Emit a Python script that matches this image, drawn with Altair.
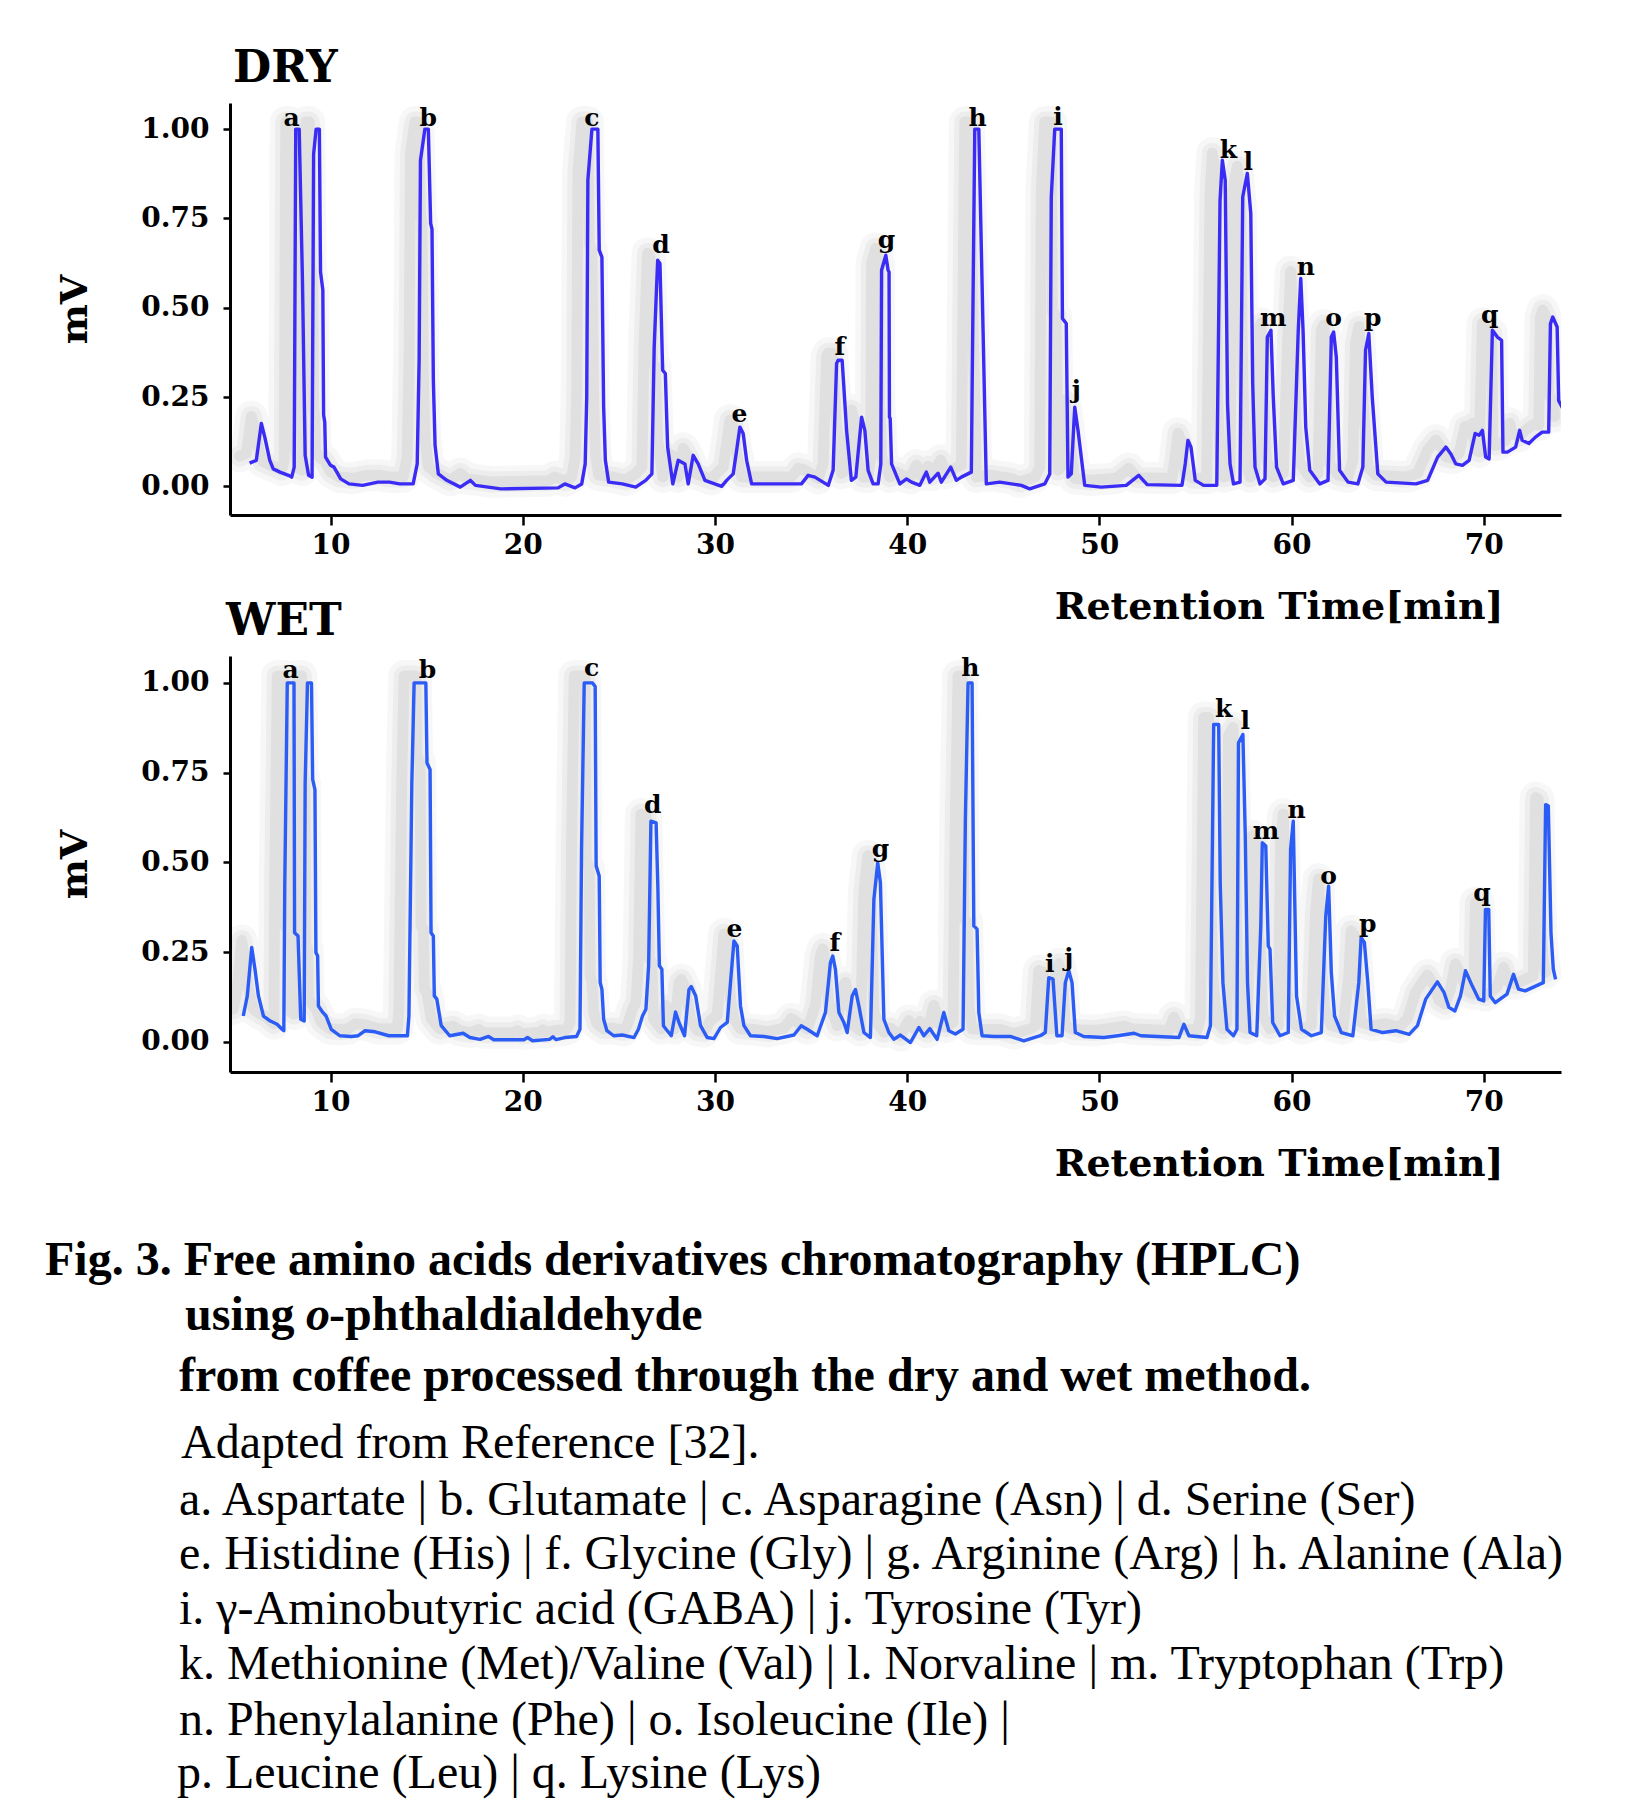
import altair as alt
import pandas as pd

# ---------------- data ----------------
DRY_T = [5.79, 6.14, 6.40, 6.58, 6.84, 7.02, 7.37, 7.81, 7.98, 8.11, 8.19, 8.37, 8.54, 8.68, 8.86, 9.04,
         9.12, 9.25, 9.42, 9.48, 9.60, 9.64, 9.70, 9.74, 10.0, 10.18, 10.53, 10.96, 11.67, 12.46, 13.07,
         13.6, 14.3, 14.51, 14.61, 14.68, 14.91, 15.09, 15.21, 15.28, 15.35, 15.44, 15.61, 16.05, 16.75,
         17.28, 17.54, 18.86, 21.84, 22.19, 22.72, 23.07, 23.25, 23.33, 23.39, 23.6, 23.91, 23.98, 24.12,
         24.21, 24.3, 24.47, 25.18, 25.88, 26.4, 26.72, 26.84, 27.02, 27.14, 27.28, 27.42, 27.54, 27.81,
         28.09, 28.44, 28.61, 28.87, 29.13, 29.48, 30.35, 30.61, 30.95, 31.13, 31.3, 31.47, 31.65, 31.91,
         33.81, 34.5, 34.85, 35.2, 35.9, 36.15, 36.33, 36.41, 36.62, 36.85, 37.1, 37.33, 37.63, 37.8,
         37.97, 38.23, 38.49, 38.63, 38.67, 38.89, 39.01, 39.06, 39.08, 39.12, 39.19, 39.62, 39.97, 40.23,
         40.66, 41.0, 41.18, 41.61, 41.78, 42.27, 42.56, 42.82, 43.34, 43.43, 43.52, 43.73, 43.95, 44.12,
         44.82, 45.94, 46.38, 47.16, 47.42, 47.5, 47.68, 48.02, 48.08, 48.28, 48.37, 48.54, 48.72, 48.89,
         49.24, 50.1, 51.4, 52.05, 52.49, 54.3, 54.47, 54.61, 54.77, 54.99, 55.42, 56.11, 56.28, 56.4,
         56.55, 56.67, 56.8, 56.98, 57.32, 57.46, 57.7, 57.88, 57.98, 58.1, 58.36, 58.62, 58.74, 58.93,
         59.05, 59.22, 59.57, 60.09, 60.35, 60.48, 60.6, 60.74, 60.95, 61.47, 61.9, 62.07, 62.19, 62.33,
         62.5, 62.94, 63.45, 63.71, 63.85, 64.02, 64.2, 64.49, 64.92, 66.48, 67.08, 67.6, 68.03, 68.29,
         68.55, 68.89, 69.24, 69.55, 69.76, 69.93, 70.1, 70.28, 70.45, 70.71, 70.93, 71.0, 71.23, 71.66,
         71.87, 72.0, 72.35, 72.69, 73.04, 73.38, 73.47, 73.59, 73.82, 73.9, 74.16, 74.2]
DRY_V = [0.065, 0.073, 0.176, 0.138, 0.073, 0.049, 0.040, 0.031, 0.026, 0.054, 1.0, 1.0, 0.577, 0.087, 0.031, 0.026,
         0.93, 1.0, 1.0, 0.60, 0.55, 0.20, 0.18, 0.082, 0.059, 0.054, 0.021, 0.007, 0.003, 0.012, 0.012,
         0.007, 0.007, 0.063, 0.353, 0.913, 1.0, 1.0, 0.736, 0.72, 0.297, 0.115, 0.035, 0.017, -0.002,
         0.017, 0.003, -0.007, -0.004, 0.007, -0.004, 0.007, 0.063, 0.25, 0.857, 1.0, 1.0, 0.661, 0.642,
         0.222, 0.073, 0.012, 0.007, -0.002, 0.017, 0.035, 0.39, 0.633, 0.624, 0.325, 0.316, 0.11, 0.007,
         0.073, 0.063, 0.007, 0.087, 0.063, 0.017, 0.0, 0.017, 0.035, 0.101, 0.166, 0.148, 0.073, 0.007,
         0.007, 0.007, 0.031, 0.026, 0.003, 0.045, 0.344, 0.353, 0.353, 0.157, 0.017, 0.026, 0.194, 0.157,
         0.045, 0.007, 0.007, 0.063, 0.605, 0.647, 0.605, 0.60, 0.194, 0.19, 0.063, 0.007, 0.021, 0.012,
         0.003, 0.040, 0.012, 0.037, 0.012, 0.054, 0.017, 0.026, 0.040, 0.53, 1.0, 1.0, 0.44, 0.007,
         0.012, 0.003, -0.007, 0.007, 0.035, 0.81, 1.0, 1.0, 0.47, 0.456, 0.026, 0.035, 0.222, 0.157,
         0.003, -0.002, 0.003, 0.031, 0.005, 0.003, 0.063, 0.129, 0.110, 0.017, 0.003, 0.003, 0.80, 0.913,
         0.857, 0.232, 0.063, 0.007, 0.012, 0.81, 0.876, 0.764, 0.288, 0.054, 0.007, 0.021, 0.418, 0.437,
         0.25, 0.054, 0.007, 0.017, 0.437, 0.582, 0.437, 0.166, 0.045, 0.007, 0.017, 0.418, 0.432, 0.362,
         0.045, 0.012, 0.007, 0.054, 0.381, 0.428, 0.25, 0.035, 0.012, 0.007, 0.017, 0.082, 0.11, 0.091,
         0.063, 0.059, 0.073, 0.148, 0.143, 0.157, 0.082, 0.077, 0.437, 0.418, 0.409, 0.096, 0.096, 0.11,
         0.157, 0.129, 0.12, 0.138, 0.152, 0.152, 0.455, 0.474, 0.446, 0.24, 0.213, 0.176]

WET_T = [5.46, 5.67, 5.90, 6.07, 6.25, 6.51, 6.87, 7.22, 7.48, 7.57, 7.62, 7.75, 8.10, 8.13, 8.31, 8.45,
         8.63, 8.68, 8.80, 9.01, 9.07, 9.19, 9.24, 9.33, 9.37, 9.60, 9.77, 10.04, 10.48, 11.09, 11.44,
         11.80, 12.32, 13.03, 14.0, 14.08, 14.23, 14.35, 14.96, 15.02, 15.18, 15.23, 15.35, 15.40, 15.53,
         15.76, 16.2, 16.9, 17.25, 17.78, 18.22, 18.49, 20.07, 20.25, 20.51, 21.39, 21.57, 21.74, 22.18,
         22.8, 22.98, 23.06, 23.2, 23.63, 23.77, 23.82, 23.98, 24.03, 24.12, 24.21, 24.38, 24.73, 25.18,
         25.79, 26.02, 26.23, 26.41, 26.55, 26.67, 26.94, 27.03, 27.11, 27.24, 27.32, 27.46, 27.73, 27.95,
         28.13, 28.42, 28.65, 28.77, 29.0, 29.25, 29.6, 29.95, 30.29, 30.64, 30.81, 30.99, 31.16, 31.33,
         31.51, 31.85, 32.55, 33.24, 34.11, 34.49, 34.8, 35.32, 35.75, 36.01, 36.13, 36.27, 36.45, 36.71,
         36.88, 37.14, 37.31, 37.49, 37.75, 38.09, 38.27, 38.47, 38.61, 38.79, 39.05, 39.31, 39.65, 40.17,
         40.61, 40.87, 41.18, 41.56, 41.91, 42.17, 42.51, 42.91, 43.03, 43.17, 43.38, 43.47, 43.64, 43.73,
         43.9, 44.51, 45.37, 46.07, 46.93, 47.19, 47.37, 47.59, 47.79, 48.06, 48.23, 48.41, 48.58, 48.75,
         49.19, 50.23, 50.95, 51.81, 52.16, 54.14, 54.4, 54.66, 55.6, 55.78, 55.95, 56.21, 56.29, 56.43,
         56.64, 56.98, 57.16, 57.24, 57.47, 57.59, 57.71, 57.84, 58.19, 58.4, 58.48, 58.66, 58.79, 58.88,
         59.02, 59.4, 59.83, 59.95, 60.09, 60.26, 60.52, 61.03, 61.55, 61.78, 61.93, 62.07, 62.24, 62.59,
         63.19, 63.5, 63.62, 63.79, 63.97, 64.14, 64.74, 65.43, 66.12, 66.55, 66.98, 67.59, 67.93, 68.19,
         68.5, 68.79, 69.05, 69.4, 69.74, 70.0, 70.09, 70.26, 70.34, 70.6, 71.21, 71.55, 71.81, 72.16,
         73.1, 73.22, 73.36, 73.5, 73.62, 73.74]
WET_V = [0.072, 0.128, 0.263, 0.202, 0.128, 0.072, 0.058, 0.049, 0.035, 0.031, 0.44, 1.0, 1.0, 0.304, 0.295, 0.063,
         0.058, 0.72, 1.0, 1.0, 0.731, 0.703, 0.249, 0.239, 0.10, 0.082, 0.072, 0.035, 0.017, 0.015, 0.017,
         0.031, 0.028, 0.017, 0.017, 0.072, 0.72, 1.0, 1.0, 0.777, 0.759, 0.304, 0.295, 0.128, 0.119,
         0.045, 0.017, 0.024, 0.012, 0.007, 0.015, 0.006, 0.006, 0.012, 0.003, 0.007, 0.014, 0.006, 0.012,
         0.015, 0.035, 0.536, 1.0, 1.0, 0.99, 0.49, 0.462, 0.165, 0.147, 0.063, 0.031, 0.017, 0.019,
         0.012, 0.035, 0.072, 0.091, 0.212, 0.615, 0.61, 0.434, 0.212, 0.202, 0.045, 0.035, 0.017, 0.083,
         0.054, 0.017, 0.146, 0.154, 0.128, 0.045, 0.012, 0.009, 0.040, 0.054, 0.165, 0.281, 0.267, 0.10,
         0.045, 0.017, 0.015, 0.009, 0.019, 0.045, 0.035, 0.017, 0.082, 0.221, 0.239, 0.202, 0.082, 0.054,
         0.026, 0.128, 0.146, 0.10, 0.026, 0.012, 0.397, 0.499, 0.443, 0.063, 0.026, 0.007, 0.019, -0.002,
         0.040, 0.017, 0.037, 0.007, 0.082, 0.031, 0.022, 0.035, 0.62, 1.0, 1.0, 0.323, 0.314, 0.082,
         0.017, 0.015, 0.015, 0.003, 0.017, 0.026, 0.179, 0.175, 0.017, 0.017, 0.165, 0.198, 0.165, 0.026,
         0.015, 0.012, 0.017, 0.024, 0.017, 0.012, 0.049, 0.017, 0.012, 0.045, 0.884, 0.884, 0.443, 0.165,
         0.035, 0.017, 0.035, 0.833, 0.856, 0.583, 0.165, 0.026, 0.017, 0.323, 0.555, 0.546, 0.267, 0.258,
         0.054, 0.017, 0.026, 0.536, 0.615, 0.128, 0.035, 0.017, 0.026, 0.35, 0.434, 0.193, 0.072, 0.026,
         0.017, 0.165, 0.29, 0.277, 0.165, 0.035, 0.026, 0.031, 0.021, 0.045, 0.119, 0.167, 0.138, 0.096,
         0.086, 0.128, 0.198, 0.156, 0.119, 0.114, 0.369, 0.369, 0.128, 0.109, 0.133, 0.188, 0.147, 0.142,
         0.165, 0.661, 0.657, 0.304, 0.202, 0.174]

PEAKS = list("abcdefghijklmnopq")
DRY_LX = [7.98, 15.09, 23.6, 27.19, 31.27, 36.5, 38.93, 43.66, 47.85, 48.8, 56.72, 57.75, 59.05, 60.74, 62.19, 64.23, 70.31]
DRY_LY = [1.03, 1.03, 1.03, 0.675, 0.204, 0.39, 0.689, 1.03, 1.035, 0.269, 0.941, 0.909, 0.47, 0.614, 0.47, 0.47, 0.479]
WET_LX = [7.92, 15.05, 23.59, 26.76, 31.02, 36.24, 38.61, 43.29, 47.42, 48.41, 56.47, 57.59, 58.67, 60.26, 61.93, 63.97, 69.91]
WET_LY = [1.037, 1.037, 1.042, 0.661, 0.314, 0.276, 0.536, 1.042, 0.216, 0.235, 0.926, 0.893, 0.587, 0.647, 0.462, 0.327, 0.416]

X_TICKS = [10, 20, 30, 40, 50, 60, 70]
Y_TICKS = [0.0, 0.25, 0.5, 0.75, 1.0]
X_DOMAIN = [4.77, 74.02]

CAPTION_BOLD_1 = "Fig. 3. Free amino acids derivatives chromatography (HPLC)"
CAPTION_BOLD_2A = "using "
CAPTION_BOLD_2B = "o"
CAPTION_BOLD_2C = "-phthaldialdehyde"
CAPTION_BOLD_3 = "from coffee processed through the dry and wet method."
CAPTION_LINES = [
    "Adapted from Reference [32].",
    "a. Aspartate | b. Glutamate | c. Asparagine (Asn) | d. Serine (Ser)",
    "e. Histidine (His) | f. Glycine (Gly) | g. Arginine (Arg) | h. Alanine (Ala)",
    "i. \u03b3-Aminobutyric acid (GABA) | j. Tyrosine (Tyr)",
    "k. Methionine (Met)/Valine (Val) | l. Norvaline | m. Tryptophan (Trp)",
    "n. Phenylalanine (Phe) | o. Isoleucine (Ile) |",
    "p. Leucine (Leu) | q. Lysine (Lys)",
]

# ---------------- chart ----------------
SERIF_B = "DejaVu Serif"
W = 1331
ONE = pd.DataFrame({"k": [0]})


def panel(t, v, lx, ly, color, name, name_x, height, ydom):
    df = pd.DataFrame({"t": t, "v": v, "i": list(range(len(t)))})
    lab = pd.DataFrame({"t": lx, "v": ly, "lab": PEAKS})
    x = alt.X("t:Q", scale=alt.Scale(domain=X_DOMAIN, nice=False, zero=False),
              axis=alt.Axis(values=X_TICKS, format="d", title="Retention Time[min]",
                            titleX=1273, titleY=92, titleAlign="right", titleBaseline="middle",
                            tickSize=10, labelPadding=6, titleFontSize=38))
    y = alt.Y("v:Q", scale=alt.Scale(domain=ydom, nice=False, zero=False),
              axis=alt.Axis(values=Y_TICKS, format=".2f", title="mV",
                            titleX=-155, titleY=height / 2, titleAngle=270,
                            titleAlign="center", titleBaseline="middle",
                            tickSize=7, labelPadding=14, titleFontSize=38))
    base = alt.Chart(df).encode(x=x, y=y, order="i:Q")
    shadows = []
    for sw, op in [(32, 0.03), (21, 0.04), (11, 0.05)]:
        shadows.append(base.mark_line(color="black", opacity=op, strokeWidth=sw, xOffset=-10, yOffset=-7,
                                      clip=True, strokeJoin="round", strokeCap="round"))
    line = base.mark_line(color=color, strokeWidth=3.4, clip=True, strokeJoin="round")
    labels = alt.Chart(lab).mark_text(font=SERIF_B, fontWeight="bold", fontSize=25,
                                      color="black", baseline="middle").encode(
        x="t:Q", y="v:Q", text="lab:N")
    ttl = alt.Chart(ONE).mark_text(text=name, font=SERIF_B, fontWeight="bold", fontSize=44,
                                   align="left", baseline="alphabetic", color="black").encode(
        x=alt.value(name_x), y=alt.value(-21))
    return alt.layer(*shadows, line, labels, ttl).properties(width=W, height=height)


dry = panel(DRY_T, DRY_V, DRY_LX, DRY_LY, "#3a2cf5", "DRY", 3, 412, [-0.08, 1.073])
wet = panel(WET_T, WET_V, WET_LX, WET_LY, "#2c5cf6", "WET", -4, 416, [-0.084, 1.075])

FONT_CAP = "Liberation Serif"
FS = 48
cap_layers = [
    alt.Chart(ONE).mark_text(text=CAPTION_BOLD_1, font=FONT_CAP, fontWeight="bold", fontSize=FS,
                             align="left", baseline="alphabetic", color="black").encode(
        x=alt.value(-185), y=alt.value(62)),
    alt.Chart(ONE).mark_text(text=CAPTION_BOLD_2A, font=FONT_CAP, fontWeight="bold", fontSize=FS,
                             align="left", baseline="alphabetic", color="black").encode(
        x=alt.value(-45), y=alt.value(117)),
    alt.Chart(ONE).mark_text(text=CAPTION_BOLD_2B, font=FONT_CAP, fontWeight="bold", fontStyle="italic",
                             fontSize=FS, align="left", baseline="alphabetic", color="black").encode(
        x=alt.value(76), y=alt.value(117)),
    alt.Chart(ONE).mark_text(text=CAPTION_BOLD_2C, font=FONT_CAP, fontWeight="bold", fontSize=FS,
                             align="left", baseline="alphabetic", color="black").encode(
        x=alt.value(99), y=alt.value(117)),
    alt.Chart(ONE).mark_text(text=CAPTION_BOLD_3, font=FONT_CAP, fontWeight="bold", fontSize=FS,
                             align="left", baseline="alphabetic", color="black").encode(
        x=alt.value(-51), y=alt.value(178)),
]
cap_y = [245, 302, 356, 411, 466, 522, 575]
cap_x = [-49, -51, -51, -51, -51, -51, -53]
for txt, yy, xx in zip(CAPTION_LINES, cap_y, cap_x):
    cap_layers.append(
        alt.Chart(ONE).mark_text(text=txt, font=FONT_CAP, fontSize=FS, align="left",
                                 baseline="alphabetic", color="black").encode(
            x=alt.value(xx), y=alt.value(yy)))
caption = alt.layer(*cap_layers).properties(width=W, height=585)

chart = alt.vconcat(dry, wet, caption, spacing=141, bounds="flush").properties(
    padding={"left": 37, "top": 39, "right": 10, "bottom": 4}
).configure_view(strokeOpacity=0).configure_axis(
    grid=False, domainColor="black", domainWidth=3, tickColor="black", tickWidth=2.5,
    labelFont=SERIF_B, labelFontWeight="bold", labelFontSize=28, labelColor="black",
    titleFont=SERIF_B, titleFontWeight="bold", titleColor="black"
)

chart.save("out.html", embed_options={"renderer": "svg", "actions": False})
